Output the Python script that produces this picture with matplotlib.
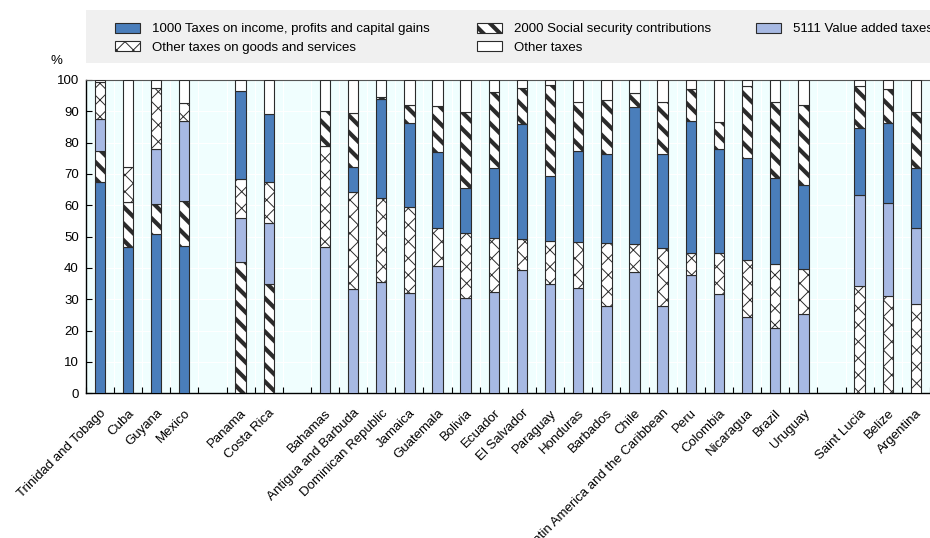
import matplotlib
matplotlib.use('Agg')
import matplotlib.pyplot as plt
import matplotlib.patches as mpatches
import numpy as np

plt.rcParams['font.family'] = ['Liberation Sans', 'DejaVu Sans']
plt.rcParams['font.size'] = 9.5
plt.rcParams['hatch.linewidth'] = 0.7

# countries, in display order; groups are split by an empty slot
groups = [
    ['Trinidad and Tobago', 'Cuba', 'Guyana', 'Mexico'],
    ['Panama', 'Costa Rica'],
    ['Bahamas', 'Antigua and Barbuda', 'Dominican Republic', 'Jamaica', 'Guatemala',
     'Bolivia', 'Ecuador', 'El Salvador', 'Paraguay', 'Honduras', 'Barbados', 'Chile',
     'Latin America and the Caribbean', 'Peru', 'Colombia', 'Nicaragua', 'Brazil', 'Uruguay'],
    ['Saint Lucia', 'Belize', 'Argentina'],
]

# shares of total tax revenue, %
income = [67.3, 46.8, 50.7, 47.1, 28.1, 21.7, 0.0, 7.8, 31.7, 27.0, 24.0, 14.3, 22.1, 36.8,
          20.7, 29.0, 28.2, 43.8, 30.0, 42.0, 33.3, 32.7, 27.6, 26.8, 21.3, 25.8, 19.3]
social = [10.1, 14.4, 9.7, 14.4, 41.8, 34.8, 11.2, 17.3, 0.6, 5.6, 14.9, 24.3, 24.3, 11.3,
          29.0, 15.5, 17.3, 4.4, 16.8, 10.1, 8.5, 22.9, 24.3, 25.5, 13.5, 10.6, 17.7]
vat = [10.1, 0.0, 17.6, 25.5, 14.1, 19.5, 46.8, 33.3, 35.4, 31.9, 40.7, 30.3, 32.4, 39.4,
       34.8, 33.5, 27.9, 38.8, 28.0, 37.8, 31.6, 24.3, 20.7, 25.3, 29.1, 29.5, 24.2]
goods = [11.8, 10.9, 19.5, 5.8, 12.5, 13.0, 32.2, 31.0, 26.8, 27.5, 12.2, 20.8, 17.3, 9.8,
         13.9, 14.9, 20.2, 8.9, 18.3, 7.1, 13.1, 18.2, 20.5, 14.4, 34.2, 31.1, 28.5]
other = [0.7, 27.9, 2.5, 7.2, 3.5, 11.0, 9.8, 10.6, 5.5, 8.0, 8.2, 10.3, 3.9, 2.7,
         1.6, 7.1, 6.4, 4.1, 6.9, 3.0, 13.5, 1.9, 6.9, 8.0, 1.9, 3.0, 10.3]

# stacking order (bottom to top) used in each group
orders = [
    ['income', 'social', 'vat', 'goods', 'other'],
    ['social', 'vat', 'goods', 'income', 'other'],
    ['vat', 'goods', 'income', 'social', 'other'],
    ['goods', 'vat', 'income', 'social', 'other'],
]

series = {'income': income, 'social': social, 'vat': vat, 'goods': goods, 'other': other}
labels = {
    'income': '1000 Taxes on income, profits and capital gains',
    'goods': 'Other taxes on goods and services',
    'social': '2000 Social security contributions',
    'other': 'Other taxes',
    'vat': '5111 Value added taxes',
}
styles = {
    'income': dict(facecolor='#4a7ebb', hatch=None),
    'social': dict(facecolor='white', hatch='\\\\'),
    'vat': dict(facecolor='#a7b9e3', hatch=None),
    'goods': dict(facecolor='white', hatch='xx'),
    'other': dict(facecolor='white', hatch=None),
}
# hatch line width is stored on a patch when it is made
hatch_lw = {'social': 3.0}

fig = plt.figure(figsize=(9.3, 5.38), dpi=100)
ax = fig.add_axes([85.8 / 930, 1 - 393.3 / 538, 1 - 85.8 / 930, 313.3 / 538])
ax.set_facecolor('#f0fefe')

names = []
pos = []
slot = 0
for g in groups:
    for c in g:
        names.append(c)
        pos.append(slot)
        slot += 1
    slot += 1  # empty slot between groups
pos = np.array(pos)

width = 0.37
start = 0
for g, order in zip(groups, orders):
    idx = list(range(start, start + len(g)))
    start += len(g)
    bottom = np.zeros(len(idx))
    for key in order:
        vals = np.array([series[key][i] for i in idx])
        st = styles[key]
        with plt.rc_context({'hatch.linewidth': hatch_lw.get(key, 0.7)}):
            ax.bar(pos[idx], vals, width, bottom=bottom, facecolor=st['facecolor'],
                   edgecolor='#2b2b2b', linewidth=0.8, hatch=st['hatch'], zorder=3)
        bottom = bottom + vals

ax.set_ylim(0, 100)
ax.set_xlim(-0.5, 29.12)
ax.set_yticks(range(0, 101, 10))
ax.set_xticks(pos)
ax.set_xticklabels(names, rotation=45, ha='right', va='top', rotation_mode='anchor')
ax.set_xticks(np.arange(-0.5, 30, 1), minor=True)
ax.tick_params(axis='x', which='major', length=0, pad=10)
ax.tick_params(axis='x', which='minor', direction='in', length=4, width=0.8)
ax.tick_params(axis='y', direction='in', length=4, width=0.8, pad=5)
ax.grid(axis='y', color='white', linewidth=0.8, zorder=0)
ax.grid(axis='x', which='minor', color='white', linewidth=0.8, zorder=0)
ax.set_axisbelow(True)
for s in ['left', 'bottom']:
    ax.spines[s].set_color('black')
    ax.spines[s].set_linewidth(1.0)
ax.spines['top'].set_color('#555555')
ax.spines['right'].set_visible(False)

fig.text(56 / 930, 1 - 61 / 538, '%', ha='center', va='center')

# legend box
fig.patches.append(mpatches.Rectangle((86 / 930, 1 - 63 / 538), 1, 53 / 538,
                                      transform=fig.transFigure, facecolor='#f0f0f0',
                                      edgecolor='none', zorder=0))


def handle(key):
    st = styles[key]
    return mpatches.Patch(facecolor=st['facecolor'], edgecolor='#2b2b2b', linewidth=0.8,
                          hatch=st['hatch'], label=labels[key])


cols = [(['income', 'goods'], 115, 0.7), (['social', 'other'], 477, 3.0), (['vat'], 756, 0.7)]
for keys, x, lw in cols:
    with plt.rc_context({'hatch.linewidth': lw}):
        fig.legend(handles=[handle(k) for k in keys], loc='upper left',
                   bbox_to_anchor=(x / 930, 1 - 23 / 538), frameon=False,
                   handlelength=1.9, handleheight=0.75, handletextpad=0.9,
                   labelspacing=0.45, borderpad=0, borderaxespad=0)

fig.savefig('out.png', dpi=100)
